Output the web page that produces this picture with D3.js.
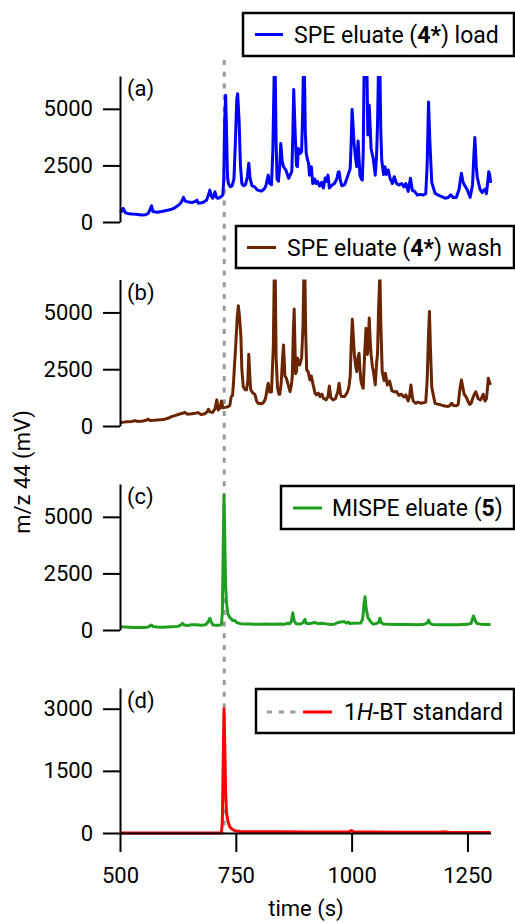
<!DOCTYPE html>
<html>
<head>
<meta charset="utf-8">
<script src="https://cdn.jsdelivr.net/npm/d3@7"></script>
<style>
  body { margin: 0; background: #fff; }
  svg { display: block; font-family: Roboto, "Noto Sans", sans-serif; }
</style>
</head>
<body>
<svg id="chart" width="515" height="923"></svg>
<script>
// m/z 44 traces, [time (s), signal (mV)]
const loadData = [
  [500,430],[503,470],[507,600],[511,420],[516,380],[525,350],[535,340],[546,310],[555,320],[561,380],[565,560],[568,720],[571,460],[580,430],[590,460],[597,500],[605,530],[611,560],[617,610],[622,680],[629,790],[633,900],[637,1090],[641,920],[648,880],[655,860],[662,900],[666,970],[669,830],[676,850],[681,880],[687,970],[691,1200],[694,1410],[697,1150],[700,1050],[703,1200],[705,1330],[708,1100],[711,1045],[715,1080],[718,1120],[722,1190],[724,1900],[726,4500],[728,5600],[730,4000],[732,2000],[734,1700],[738,1560],[742,1600],[746,1900],[749,3500],[752,5400],[754,5670],[757,4500],[760,2500],[763,1700],[767,1600],[771,1650],[775,2000],[778,2600],[781,1900],[785,1600],[791,1550],[796,1420],[802,1380],[806,1370],[811,1450],[815,1600],[818,1900],[820,2070],[823,1700],[827,1650],[830,3200],[833,6800],[835,6800],[837,3500],[839,1900],[842,1800],[845,2500],[847,3470],[850,2700],[853,2440],[858,2300],[864,1930],[868,2100],[871,2250],[873,3800],[875,5850],[878,4000],[881,2500],[883,2440],[885,3250],[889,3030],[892,3100],[894,4570],[896,6800],[898,6800],[900,4000],[902,3030],[905,2730],[907,2600],[909,2070],[913,2440],[916,1700],[920,1900],[923,1700],[926,1800],[931,1590],[935,1750],[939,1500],[943,1940],[946,1800],[949,2070],[952,1500],[956,1600],[963,1700],[968,1900],[971,2200],[973,2220],[976,1800],[979,1600],[985,1650],[991,2000],[997,2370],[999,3500],[1001,4970],[1003,4300],[1005,3540],[1008,2900],[1011,2440],[1014,3580],[1016,2800],[1018,2070],[1021,1900],[1023,1850],[1025,3000],[1027,6800],[1030,6800],[1033,6800],[1035,3840],[1038,5160],[1040,4200],[1042,3250],[1047,2750],[1051,2070],[1054,3000],[1056,4400],[1058,6800],[1061,6800],[1063,4000],[1065,2730],[1069,2100],[1072,2440],[1075,2100],[1079,2300],[1083,1930],[1088,1700],[1092,2000],[1097,1700],[1102,1630],[1108,1700],[1113,1550],[1117,1700],[1122,1350],[1127,1930],[1131,1400],[1136,1350],[1142,1190],[1148,1220],[1155,1190],[1160,1250],[1163,2500],[1166,5300],[1169,3500],[1173,1750],[1180,1270],[1186,1200],[1191,1150],[1197,1100],[1202,1050],[1208,1080],[1214,1200],[1219,1080],[1226,1080],[1232,1450],[1235,1900],[1237,2150],[1240,1800],[1243,1650],[1249,1450],[1256,1090],[1261,1650],[1264,3000],[1266,3730],[1269,2500],[1271,2000],[1277,1450],[1282,1300],[1285,1400],[1288,1450],[1291,1250],[1294,1800],[1296,2220],[1298,2100],[1300,1730]
];

const washData = [
  [500,146],[508,170],[515,190],[525,200],[532,235],[540,200],[550,220],[557,260],[561,300],[565,240],[575,250],[585,270],[597,300],[605,350],[611,410],[620,470],[629,530],[635,560],[640,600],[645,520],[655,540],[662,560],[669,590],[675,500],[683,540],[688,620],[691,735],[694,620],[700,600],[705,750],[709,1150],[712,700],[716,800],[719,1100],[722,800],[727,820],[733,850],[737,900],[740,1290],[743,1350],[745,1900],[747,2600],[750,3600],[753,4800],[755.5,5290],[758,4800],[761,3940],[763,2500],[766,1730],[770,1600],[773,1590],[776,2000],[778,3160],[780,2300],[782,1600],[787,1450],[791,1400],[795,1100],[798,1000],[804,980],[808,1000],[812,1100],[815,1300],[818,1700],[820,1880],[823,1500],[827,1500],[831,3500],[833,6800],[835,6800],[837,3000],[840,1700],[843,1400],[845,1400],[848,1900],[851,3000],[853,3570],[856,2200],[859,2100],[862,1900],[867,1510],[870,1800],[872,2200],[874,4000],[876,5150],[879,2300],[881,2400],[883,2990],[888,2690],[892,2990],[895,4380],[897,6800],[899,6800],[901,4000],[903,2470],[906,2400],[910,2030],[913,2200],[917,1810],[921,1450],[924,1370],[928,1450],[932,1300],[936,1400],[939,1220],[945,1150],[949,1300],[952,1760],[955,1250],[960,1150],[965,1200],[970,1500],[973,1880],[976,1400],[978,1300],[985,1300],[991,1500],[994,1700],[997,2200],[999,3500],[1001.5,4700],[1004,3800],[1006,3130],[1009,2600],[1011,2400],[1014,3000],[1016,3200],[1018,2500],[1020,2000],[1023,1750],[1025,1660],[1028,3100],[1031,4300],[1034,3150],[1036,3600],[1038,4750],[1040,3800],[1042,3130],[1045,2600],[1047,2400],[1051,1810],[1054,2800],[1056,3200],[1058,5000],[1061,6800],[1063,4500],[1066,2400],[1070,2000],[1073,2320],[1077,1800],[1082,1980],[1087,1550],[1093,1500],[1097,1520],[1102,1350],[1107,1400],[1113,1280],[1117,1370],[1122,1100],[1125,1300],[1128,1810],[1131,1300],[1133,1100],[1138,1000],[1143,1050],[1150,1000],[1155,1020],[1160,1050],[1163,2000],[1166,4000],[1168,5040],[1170,3500],[1173,1700],[1180,1000],[1186,960],[1191,940],[1197,900],[1202,880],[1208,860],[1212,900],[1216,1000],[1220,900],[1226,890],[1230,950],[1233,1500],[1235,1800],[1237,2030],[1240,1700],[1243,1400],[1248,1250],[1252,1050],[1255,950],[1258,1000],[1261,1200],[1265,1400],[1268,1510],[1271,1350],[1273,1200],[1278,1150],[1281,1250],[1284,1400],[1286,1200],[1288,1100],[1291,1200],[1293,1600],[1295,2100],[1298,1900],[1300,1810]
];

const mispeData = [
  [500,140],[510,130],[520,120],[530,110],[545,110],[555,115],[562,140],[566,200],[568,220],[571,150],[580,130],[595,125],[610,140],[625,160],[632,230],[635,295],[639,220],[645,200],[655,230],[665,230],[675,210],[685,230],[690,350],[694,520],[697,350],[701,220],[710,210],[716,220],[719,240],[721,800],[723,4000],[724.5,5950],[726,4200],[728,2000],[730,1180],[733,700],[737,550],[740,500],[743,420],[748,420],[752,330],[760,280],[770,270],[780,265],[790,250],[800,250],[815,260],[830,250],[845,260],[855,250],[862,300],[867,280],[870,400],[873,760],[876,400],[880,280],[889,260],[895,320],[899,470],[902,300],[910,280],[920,330],[928,280],[935,300],[945,270],[955,240],[962,250],[969,320],[976,350],[983,370],[990,300],[993,350],[997,280],[1000,300],[1020,310],[1024,500],[1027,1200],[1029,1470],[1031,1000],[1035,550],[1040,400],[1046,260],[1052,280],[1058,330],[1061,520],[1064,330],[1068,270],[1080,250],[1100,240],[1120,240],[1140,230],[1155,240],[1163,300],[1166,440],[1169,300],[1175,240],[1190,230],[1211,230],[1230,230],[1250,250],[1258,300],[1261,500],[1263,620],[1266,450],[1270,300],[1280,250],[1290,240],[1300,240]
];

const stdData = [
  [500,0],[600,0],[700,0],[719,0],[721,300],[722.5,1500],[724.5,3000],[726,2200],[728,1000],[730,480],[733,280],[737,150],[741,100],[745,70],[750,50],[760,38],[780,32],[800,30],[850,28],[900,25],[950,22],[990,22],[997,45],[1000,60],[1004,30],[1050,22],[1100,20],[1150,18],[1190,18],[1200,30],[1210,18],[1250,15],[1300,12]
];

const xTicks = [500, 750, 1000, 1250];
const bigTicks = [0, 2500, 5000];
const stdTicks = [0, 1500, 3000];
const markerTime = 725;

const panels = [
  { key: "a", data: loadData, color: "#0000ff", max: 6450, top: 76, zero: 222, ticks: bigTicks,
    box: [243, 13, 271, 43], sample: [255, 283, 34.5], textX: 294, textY: 43,
    text: [["SPE eluate (", "normal"], ["4*", "bold"], [") load", "normal"]] },
  { key: "b", data: washData, color: "#6a2400", max: 6450, top: 279.5, zero: 426, ticks: bigTicks,
    box: [236, 226, 278, 42], sample: [247, 276, 247.5], textX: 287, textY: 256,
    text: [["SPE eluate (", "normal"], ["4*", "bold"], [") wash", "normal"]] },
  { key: "c", data: mispeData, color: "#1f9f1f", max: 6450, top: 484, zero: 630, ticks: bigTicks,
    box: [281, 486, 233, 43], sample: [293, 322, 508], textX: 332, textY: 516,
    text: [["MISPE eluate (", "normal"], ["5", "bold"], [")", "normal"]] },
  { key: "d", data: stdData, color: "#ff0000", max: 3500, top: 688, zero: 833, ticks: stdTicks,
    box: [256, 689, 258, 44], sample: [303, 332, 712], textX: 344, textY: 720,
    text: [["1", "normal"], ["H", "italic"], ["-BT standard", "normal"]] }
];

const svg = d3.select("#chart");
const x = d3.scaleLinear().domain([500, 1300]).range([120, 490.6]);
const fmt = d3.format("d");

// grey dotted marker at the 1H-BT retention time, behind the traces
svg.append("line")
  .attr("x1", x(markerTime)).attr("x2", x(markerTime))
  .attr("y1", 60).attr("y2", 833)
  .attr("stroke", "#999").attr("stroke-width", 3)
  .attr("stroke-dasharray", "5,6.7");

panels.forEach(p => {
  const y = d3.scaleLinear().domain([0, p.max]).range([p.zero, p.top]);
  const g = svg.append("g");

  svg.append("clipPath").attr("id", "clip-" + p.key)
    .append("rect")
    .attr("x", 115).attr("y", p.top)
    .attr("width", 390).attr("height", p.zero - p.top + 20);

  const line = d3.line().x(d => x(d[0])).y(d => y(d[1]));
  g.append("path")
    .datum(p.data)
    .attr("clip-path", "url(#clip-" + p.key + ")")
    .attr("d", line)
    .attr("fill", "none")
    .attr("stroke", p.color)
    .attr("stroke-width", 3)
    .attr("stroke-linejoin", "round");

  const yAxis = g.append("g")
    .attr("transform", "translate(120,0)")
    .call(d3.axisLeft(y).tickValues(p.ticks).tickFormat(fmt)
      .tickSize(17).tickSizeOuter(0).tickPadding(10));
  yAxis.attr("font-family", null).attr("font-size", 22);
  yAxis.selectAll("path, line").attr("stroke", "#000").attr("stroke-width", 2);
  yAxis.selectAll("text").attr("fill", "#000");

  g.append("text")
    .attr("x", 127).attr("y", p.top + 20)
    .attr("font-size", 22)
    .text("(" + p.key + ")");

  // legend box
  const lg = g.append("g");
  lg.append("rect")
    .attr("x", p.box[0]).attr("y", p.box[1])
    .attr("width", p.box[2]).attr("height", p.box[3])
    .attr("fill", "#fff").attr("stroke", "#000").attr("stroke-width", 2.5);
  if (p.key === "d") {
    lg.append("line")
      .attr("x1", 267).attr("x2", 297).attr("y1", p.sample[2]).attr("y2", p.sample[2])
      .attr("stroke", "#999").attr("stroke-width", 3).attr("stroke-dasharray", "5,6.7");
  }
  lg.append("line")
    .attr("x1", p.sample[0]).attr("x2", p.sample[1])
    .attr("y1", p.sample[2]).attr("y2", p.sample[2])
    .attr("stroke", p.color).attr("stroke-width", 3);
  const t = lg.append("text")
    .attr("x", p.textX).attr("y", p.textY)
    .attr("font-size", 23);
  p.text.forEach(([s, style]) => {
    const ts = t.append("tspan").text(s);
    if (style === "bold") ts.attr("font-weight", "bold");
    if (style === "italic") ts.attr("font-style", "italic");
  });

  if (p.key === "d") {
    const xAxis = g.append("g")
      .attr("transform", "translate(0," + p.zero + ")")
      .call(d3.axisBottom(x).tickValues(xTicks).tickFormat(fmt)
        .tickSize(19).tickSizeOuter(0).tickPadding(15));
    xAxis.attr("font-family", null).attr("font-size", 22);
    xAxis.selectAll("path, line").attr("stroke", "#000").attr("stroke-width", 2);
    xAxis.selectAll("text").attr("fill", "#000");
  }
});

svg.append("text")
  .attr("transform", "translate(30,472) rotate(-90)")
  .attr("text-anchor", "middle")
  .attr("font-size", 22)
  .text("m/z 44 (mV)");

svg.append("text")
  .attr("x", 306).attr("y", 916)
  .attr("text-anchor", "middle")
  .attr("font-size", 22)
  .text("time (s)");
</script>
</body>
</html>
